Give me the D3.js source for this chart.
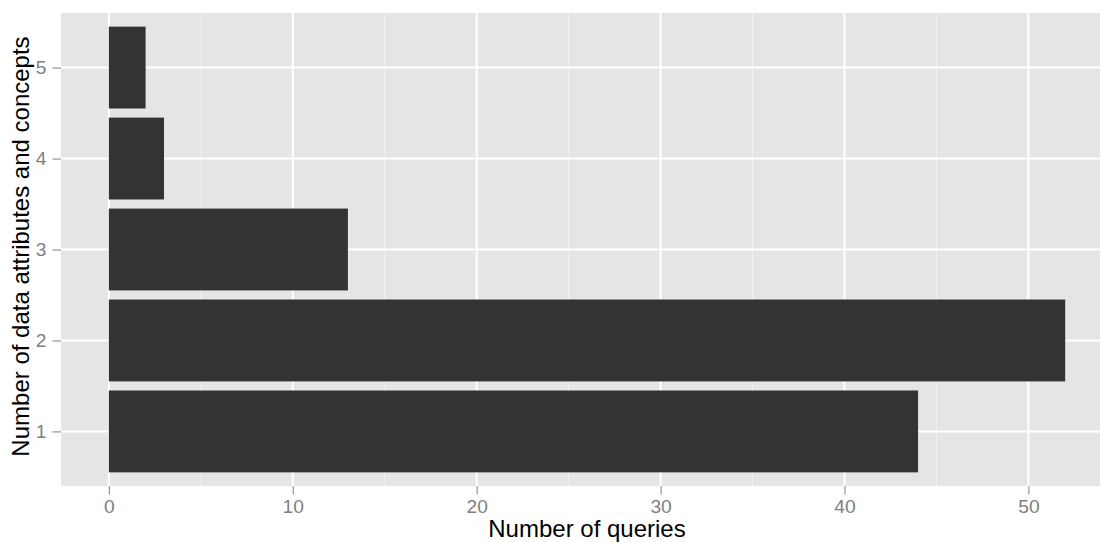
<!DOCTYPE html>
<html><head><meta charset="utf-8">
<script src="https://cdn.jsdelivr.net/npm/d3@7"></script>
<style>body{margin:0;background:#fff}svg{display:block}text{font-family:"Liberation Sans",Arial,sans-serif}</style>
</head><body>
<script>
const categories = [1, 2, 3, 4, 5];
const counts = [44, 52, 13, 3, 2];
const xTicks = [0, 10, 20, 30, 40, 50];
const xMinor = [5, 15, 25, 35, 45];
const yLabels = ["1", "2", "3", "4", "5"];
const xTitle = "Number of queries";
const yTitle = "Number of data attributes and concepts";

const W = 1100, H = 542;
const svg = d3.select("body").append("svg").attr("width", W).attr("height", H);
const pL = 61, pR = 1113, pT = 13, pB = 486;

const x = d3.scaleLinear().domain([-2.6, 54.6]).range([pL, pR]);
const y = d3.scaleLinear().domain([0.4, 5.6]).range([pB, pT]);

svg.append("rect").attr("x", pL).attr("y", pT).attr("width", pR - pL).attr("height", pB - pT).attr("fill", "#E5E5E5");

svg.selectAll(".minor").data(xMinor).enter().append("line")
  .attr("x1", d => x(d)).attr("x2", d => x(d)).attr("y1", pT).attr("y2", pB)
  .attr("stroke", "#F2F2F2").attr("stroke-width", 1);
svg.selectAll(".majx").data(xTicks).enter().append("line")
  .attr("x1", d => x(d)).attr("x2", d => x(d)).attr("y1", pT).attr("y2", pB)
  .attr("stroke", "#FFFFFF").attr("stroke-width", 2);
svg.selectAll(".majy").data(categories).enter().append("line")
  .attr("y1", d => y(d)).attr("y2", d => y(d)).attr("x1", pL).attr("x2", pR)
  .attr("stroke", "#FFFFFF").attr("stroke-width", 2);

svg.selectAll(".bar").data(categories).enter().append("rect")
  .attr("x", x(0))
  .attr("y", d => y(d + 0.45))
  .attr("width", (d, i) => x(counts[i]) - x(0))
  .attr("height", d => y(d - 0.45) - y(d + 0.45))
  .attr("fill", "#333333");

// x axis
const xAxis = d3.axisBottom(x).tickValues(xTicks).tickSize(8.5).tickPadding(5).tickFormat(d3.format("d"));
const gx = svg.append("g").attr("transform", `translate(0,${pB})`).call(xAxis);
gx.select(".domain").remove();
gx.selectAll(".tick line").attr("stroke", "#7F7F7F").attr("stroke-width", 1);
gx.selectAll(".tick text").attr("fill", "#7F7F7F").attr("font-size", "19.2px").attr("font-family", "Liberation Sans, Arial, sans-serif");

// y axis
const yAxis = d3.axisLeft(y).tickValues(categories).tickSize(8.5).tickPadding(6).tickFormat((d, i) => yLabels[i]);
const gy = svg.append("g").attr("transform", `translate(${pL},0)`).call(yAxis);
gy.select(".domain").remove();
gy.selectAll(".tick line").attr("stroke", "#7F7F7F").attr("stroke-width", 1);
gy.selectAll(".tick text").attr("fill", "#7F7F7F").attr("font-size", "19.2px").attr("font-family", "Liberation Sans, Arial, sans-serif");

svg.append("text").attr("x", (pL + pR) / 2).attr("y", 537).attr("text-anchor", "middle")
  .attr("font-size", "24px").attr("fill", "#000").text(xTitle);
svg.append("text").attr("transform", `translate(29,${(pT + pB) / 2 - 3}) rotate(-90)`).attr("text-anchor", "middle")
  .attr("font-size", "24px").attr("fill", "#000").text(yTitle);
</script>
</body></html>
